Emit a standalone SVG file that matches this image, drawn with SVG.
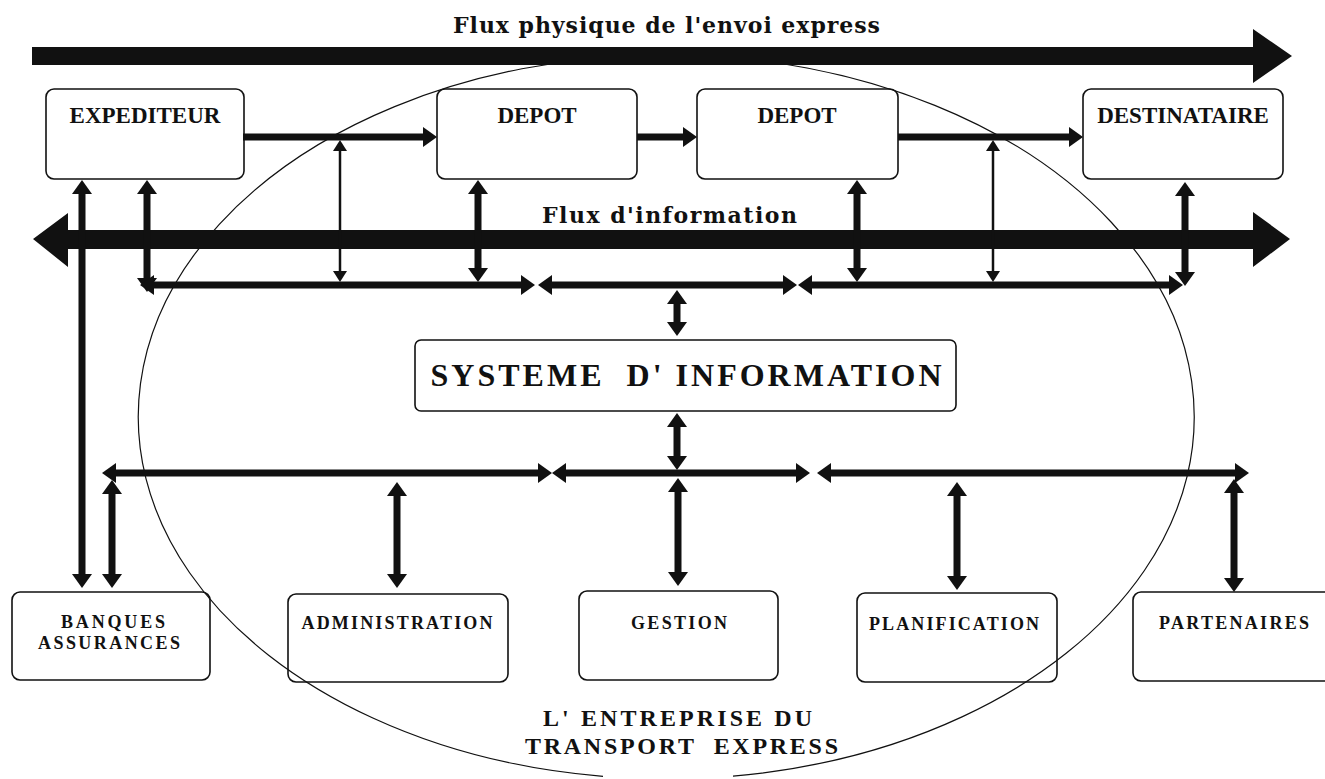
<svg xmlns="http://www.w3.org/2000/svg" width="1325" height="779" viewBox="0 0 1325 779">
<style>
.box{fill:none;stroke:#111;stroke-width:1.6}
.lbl{font-family:"Liberation Serif","Times New Roman",serif;font-weight:bold;fill:#111;text-anchor:middle}
.flux{font-family:"DejaVu Serif","Liberation Serif",serif;font-weight:bold;fill:#111;text-anchor:middle}
.big{font-size:23px}
.sm{font-size:18px}
.c{stroke:#111;stroke-width:7;fill:none}
.th{stroke:#111;stroke-width:2.5;fill:none}
</style>
<defs>
<marker id="a" viewBox="0 0 14 20" refX="3" refY="10" markerWidth="14" markerHeight="20" markerUnits="userSpaceOnUse" orient="auto-start-reverse"><path d="M0,0 L14,10 L0,20 z" fill="#111"/></marker>
<marker id="t" viewBox="0 0 11 14" refX="2" refY="7" markerWidth="11" markerHeight="14" markerUnits="userSpaceOnUse" orient="auto-start-reverse"><path d="M0,0 L11,7 L0,14 z" fill="#111"/></marker>
</defs>
<rect width="1325" height="779" fill="#fff"/>

<g id="enterprise">
<path d="M733,776.1 A528,362 0 1 0 603,776.4" fill="none" stroke="#111" stroke-width="1.2"/>
<text class="lbl" x="677.5" y="726" font-size="24" textLength="269" lengthAdjust="spacing">L' ENTREPRISE DU</text>
<text class="lbl" x="681.5" y="754" font-size="24" textLength="313" lengthAdjust="spacing" xml:space="preserve">TRANSPORT  EXPRESS</text>
</g>

<g id="flux-physique">
<polygon points="32,47 1253,47 1253,29 1292,56 1253,83 1253,65 32,65" fill="#111"/>
<text class="flux" x="666.5" y="33" font-size="22" textLength="427" lengthAdjust="spacing">Flux physique de l'envoi express</text>
</g>

<g id="flux-information">
<polygon points="33,239 68,213 68,230 1253,230 1253,212 1290,239 1253,267 1253,249 68,249 68,267" fill="#111"/>
<text class="flux" x="669.5" y="223" font-size="22" textLength="255" lengthAdjust="spacing">Flux d'information</text>
</g>

<g id="expediteur"><rect class="box" x="46" y="89" width="198" height="90" rx="8"/><text class="lbl big" x="145" y="123">EXPEDITEUR</text></g>
<g id="depot1"><rect class="box" x="437" y="89" width="200" height="90" rx="8"/><text class="lbl big" x="537" y="123">DEPOT</text></g>
<g id="depot2"><rect class="box" x="697" y="89" width="201" height="90" rx="8"/><text class="lbl big" x="797" y="123">DEPOT</text></g>
<g id="destinataire"><rect class="box" x="1083" y="89" width="200" height="90" rx="8"/><text class="lbl big" x="1183" y="123">DESTINATAIRE</text></g>
<g id="systeme"><rect class="box" x="415" y="340" width="541" height="71" rx="6"/><text class="lbl" x="686" y="386" font-size="32" textLength="511" lengthAdjust="spacing" xml:space="preserve">SYSTEME  D' INFORMATION</text></g>
<g id="banques"><rect class="box" x="12" y="592" width="198" height="88" rx="8"/><text class="lbl sm" x="113" y="628" textLength="104" lengthAdjust="spacing">BANQUES</text><text class="lbl sm" x="109" y="649" textLength="142" lengthAdjust="spacing">ASSURANCES</text></g>
<g id="administration"><rect class="box" x="288" y="594" width="220" height="88" rx="8"/><text class="lbl sm" x="397" y="629" textLength="191" lengthAdjust="spacing">ADMINISTRATION</text></g>
<g id="gestion"><rect class="box" x="579" y="591" width="199" height="89" rx="8"/><text class="lbl sm" x="679" y="629" textLength="96" lengthAdjust="spacing">GESTION</text></g>
<g id="planification"><rect class="box" x="857" y="593" width="200" height="89" rx="8"/><text class="lbl sm" x="954" y="630" textLength="170" lengthAdjust="spacing">PLANIFICATION</text></g>
<g id="partenaires"><rect class="box" x="1133" y="592" width="200" height="89" rx="8"/><text class="lbl sm" x="1234" y="629" textLength="150" lengthAdjust="spacing">PARTENAIRES</text></g>

<g id="connectors">
<line class="c" x1="243" y1="137" x2="426" y2="137" marker-end="url(#a)"/>
<line class="c" x1="637" y1="137" x2="686" y2="137" marker-end="url(#a)"/>
<line class="c" x1="898" y1="137" x2="1072" y2="137" marker-end="url(#a)"/>

<line class="c" x1="82" y1="191" x2="82" y2="577" marker-start="url(#a)" marker-end="url(#a)"/>
<line class="c" x1="147" y1="191" x2="147" y2="281" marker-start="url(#a)" marker-end="url(#a)"/>
<line class="th" x1="340" y1="149" x2="340" y2="273" marker-start="url(#t)" marker-end="url(#t)"/>
<line class="c" x1="478" y1="191" x2="478" y2="271" marker-start="url(#a)" marker-end="url(#a)"/>
<line class="c" x1="857" y1="191" x2="857" y2="271" marker-start="url(#a)" marker-end="url(#a)"/>
<line class="th" x1="993" y1="149" x2="993" y2="273" marker-start="url(#t)" marker-end="url(#t)"/>
<line class="c" x1="1185" y1="193" x2="1185" y2="275" marker-start="url(#a)" marker-end="url(#a)"/>

<line class="c" x1="151" y1="285" x2="524" y2="285" marker-start="url(#a)" marker-end="url(#a)"/>
<line class="c" x1="549" y1="285" x2="786" y2="285" marker-start="url(#a)" marker-end="url(#a)"/>
<line class="c" x1="809" y1="285" x2="1172" y2="285" marker-start="url(#a)" marker-end="url(#a)"/>

<line class="c" x1="677" y1="301" x2="677" y2="325" marker-start="url(#a)" marker-end="url(#a)"/>
<line class="c" x1="677" y1="424" x2="677" y2="459" marker-start="url(#a)" marker-end="url(#a)"/>

<line class="c" x1="113" y1="473" x2="541" y2="473" marker-start="url(#a)" marker-end="url(#a)"/>
<line class="c" x1="563" y1="473" x2="799" y2="473" marker-start="url(#a)" marker-end="url(#a)"/>
<line class="c" x1="828" y1="473" x2="1238" y2="473" marker-start="url(#a)" marker-end="url(#a)"/>

<line class="c" x1="112" y1="491" x2="112" y2="577" marker-start="url(#a)" marker-end="url(#a)"/>
<line class="c" x1="397" y1="493" x2="397" y2="577" marker-start="url(#a)" marker-end="url(#a)"/>
<line class="c" x1="678" y1="489" x2="678" y2="575" marker-start="url(#a)" marker-end="url(#a)"/>
<line class="c" x1="957" y1="493" x2="957" y2="579" marker-start="url(#a)" marker-end="url(#a)"/>
<line class="c" x1="1234" y1="490" x2="1234" y2="581" marker-start="url(#a)" marker-end="url(#a)"/>
</g>
</svg>
